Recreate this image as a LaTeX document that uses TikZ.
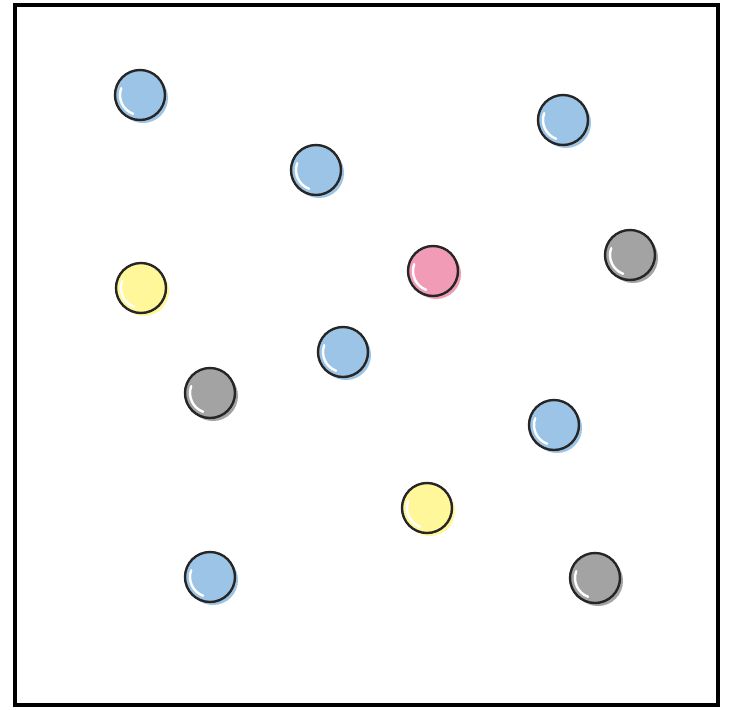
\documentclass[tikz,border=0pt]{standalone}
\begin{document}
\begin{tikzpicture}[x=0.05cm,y=-0.05cm,
  ball/.style={line width=0.12cm, draw=black!85}]
\definecolor{cblue}{HTML}{9CC4E6}
\definecolor{cyellow}{HTML}{FFF799}
\definecolor{cpink}{HTML}{F29BB6}
\definecolor{cgray}{HTML}{A3A3A3}
\useasboundingbox (0,0) rectangle (732,709);
\fill[white] (0,0) rectangle (732,709);
\draw[line width=0.16cm] (15,5) -- (718,5) -- (718,705) -- (15,705) -- cycle;
\newcommand{\myball}[3]{%
  \fill[#3] (#1+3,#2+3) circle (25);
  \fill[#3] (#1,#2) circle (24);
  \draw[ball] (#1,#2) circle (25);
  \draw[white, line width=0.12cm, line cap=round] (#1,#2) ++(110:20) arc (110:200:20);
}
\myball{140}{95}{cblue}
\myball{316}{170}{cblue}
\myball{563}{120}{cblue}
\myball{141}{288}{cyellow}
\myball{433}{271}{cpink}
\myball{630}{255}{cgray}
\myball{343}{352}{cblue}
\myball{210}{393}{cgray}
\myball{554}{425}{cblue}
\myball{427}{508}{cyellow}
\myball{210}{577}{cblue}
\myball{595}{578}{cgray}
\end{tikzpicture}
\end{document}
